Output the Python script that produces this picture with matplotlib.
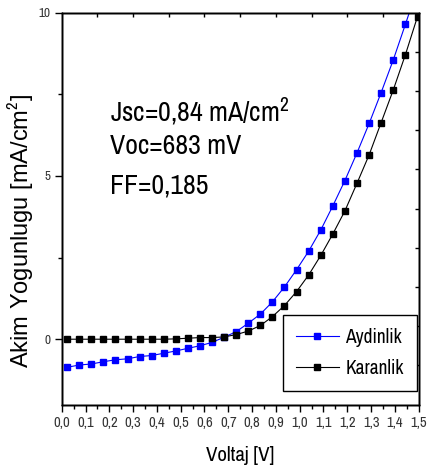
import matplotlib
matplotlib.use("Agg")
import matplotlib.pyplot as plt

NARROW_FONT = "Archivo Narrow"
plt.rcParams["font.family"] = [NARROW_FONT, "Roboto Condensed", "DejaVu Sans"]
plt.rcParams["mathtext.fontset"] = "custom"
plt.rcParams["mathtext.rm"] = NARROW_FONT
plt.rcParams["mathtext.it"] = NARROW_FONT

# Data
voltage = [0.023, 0.074, 0.124, 0.175, 0.226, 0.277, 0.327, 0.378, 0.429, 0.479,
           0.530, 0.581, 0.631, 0.682, 0.733, 0.784, 0.835, 0.885, 0.936, 0.987,
           1.038, 1.089, 1.139, 1.190, 1.241, 1.292, 1.342, 1.393, 1.444, 1.495]
aydinlik = [-0.86, -0.79, -0.76, -0.69, -0.63, -0.60, -0.53, -0.50, -0.43, -0.36,
            -0.28, -0.20, -0.10, 0.06, 0.23, 0.49, 0.77, 1.14, 1.60, 2.13,
            2.70, 3.35, 4.08, 4.86, 5.71, 6.61, 7.55, 8.55, 9.64, 10.75]
karanlik = [0.0, 0.0, 0.0, 0.0, 0.0, 0.0, 0.0, 0.0, 0.0, 0.01,
            0.03, 0.05, 0.05, 0.07, 0.14, 0.25, 0.42, 0.69, 1.03, 1.46,
            1.97, 2.57, 3.22, 3.93, 4.78, 5.65, 6.63, 7.63, 8.71, 9.88]
series_names = ["Aydinlik", "Karanlik"]
x_ticks = [0.0, 0.1, 0.2, 0.3, 0.4, 0.5, 0.6, 0.7, 0.8, 0.9, 1.0, 1.1, 1.2, 1.3, 1.4, 1.5]
x_ticklabels = ["0,0", "0,1", "0,2", "0,3", "0,4", "0,5", "0,6", "0,7", "0,8",
                "0,9", "1,0", "1,1", "1,2", "1,3", "1,4", "1,5"]
y_ticks = [0, 5, 10]
annotations = ["Jsc=0,84 mA/cm$^2$", "Voc=683 mV", "FF=0,185"]

fig = plt.figure(figsize=(4.30, 4.73), dpi=100)
ax = fig.add_axes([0.1435, 0.1448, 0.8302, 0.8284])

ax.plot(voltage, aydinlik, color="#0000ff", lw=0.8, marker="s", ms=4.5,
        mec="#0000ff", mfc="#0000ff", label=series_names[0])
ax.plot(voltage, karanlik, color="black", lw=0.8, marker="s", ms=4.5,
        mec="black", mfc="black", label=series_names[1])

ax.set_xlim(0, 1.5)
ax.set_ylim(-2, 10)
ax.set_xticks(x_ticks)
ax.set_xticklabels(x_ticklabels, fontsize=10.5, color="#333333")
ax.set_xticks([0.05 + 0.1 * i for i in range(15)], minor=True)
ax.set_yticks(y_ticks)
ax.set_yticklabels([str(v) for v in y_ticks], fontsize=9.5, color="#333333")
ax.set_yticks([2.5, 7.5], minor=True)
ax.tick_params(axis="both", which="major", direction="out", length=5, width=1,
               pad=3, top=False, right=False)
ax.tick_params(axis="both", which="minor", direction="out", length=3, width=1,
               top=False, right=False)
for s in ax.spines.values():
    s.set_linewidth(1.0)

# Top and right ticks (inward, no labels)
axt = ax.twiny()
axt.set_xlim(0, 10)
axt.set_xticks(range(1, 10))
axt.tick_params(axis="x", direction="in", length=3, width=1, labeltop=False)
axr = ax.twinx()
axr.set_ylim(0, 10)
axr.set_yticks(range(1, 10))
axr.tick_params(axis="y", direction="in", length=3, width=1, labelright=False)
for a in (axt, axr):
    for s in a.spines.values():
        s.set_linewidth(1.0)

ax.set_xlabel("Voltaj [V]", fontsize=15, labelpad=12)
ax.set_ylabel("Akim Yogunlugu [mA/cm$^2$]", fontsize=17,
              family=["Liberation Sans", "DejaVu Sans"])
ax.yaxis.set_label_coords(-0.075, 0.443)

text_y = [6.66, 5.66, 4.47]
for t, yv in zip(annotations, text_y):
    ax.text(0.202, yv, t, fontsize=20, va="baseline", ha="left")

leg = axr.legend(*ax.get_legend_handles_labels(), loc="lower right",
                 bbox_to_anchor=(0.995, 0.035), fontsize=14, frameon=True,
                 fancybox=False, edgecolor="black", framealpha=1,
                 handlelength=2.2, handletextpad=0.35, borderpad=0.68,
                 labelspacing=0.6, borderaxespad=0)
leg.get_frame().set_linewidth(1.0)

fig.savefig("out.png", dpi=100)
